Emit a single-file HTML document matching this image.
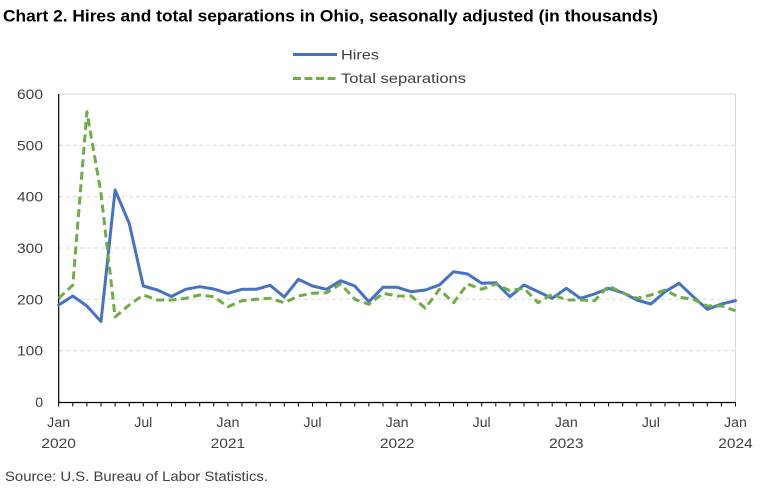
<!DOCTYPE html>
<html>
<head>
<meta charset="utf-8">
<style>
  html, body { margin: 0; padding: 0; background: #ffffff; }
  body { width: 780px; height: 488px; overflow: hidden; }
  svg { display: block; }
  text { font-family: "Liberation Sans", "DejaVu Sans", sans-serif; }
</style>
</head>
<body>
<svg width="780" height="488" viewBox="0 0 780 488" xmlns="http://www.w3.org/2000/svg">
  <rect x="0" y="0" width="780" height="488" fill="#ffffff"/>

  <text x="3" y="21.5" font-size="16.5" font-weight="bold" fill="#000" textLength="655" lengthAdjust="spacingAndGlyphs">Chart 2. Hires and total separations in Ohio, seasonally adjusted (in thousands)</text>

  <line x1="293" y1="54.5" x2="337" y2="54.5" stroke="#4472C4" stroke-width="3"/>
  <text x="341" y="59.5" font-size="14" fill="#404040" textLength="38" lengthAdjust="spacingAndGlyphs">Hires</text>
  <line x1="293" y1="78.5" x2="337" y2="78.5" stroke="#70AD47" stroke-width="3" stroke-dasharray="8,3.5"/>
  <text x="341" y="83" font-size="14" fill="#404040" textLength="125" lengthAdjust="spacingAndGlyphs">Total separations</text>

  <line x1="58.7" y1="94" x2="735.5" y2="94" stroke="#D9D9D9" stroke-width="1"/>
  <g stroke="#D9D9D9" stroke-width="1" stroke-dasharray="4,3">
    <line x1="59" y1="145.3" x2="735.5" y2="145.3"/>
    <line x1="59" y1="196.7" x2="735.5" y2="196.7"/>
    <line x1="59" y1="248" x2="735.5" y2="248"/>
    <line x1="59" y1="299.3" x2="735.5" y2="299.3"/>
    <line x1="59" y1="350.7" x2="735.5" y2="350.7"/>
  </g>
  <line x1="735.5" y1="94" x2="735.5" y2="402.5" stroke="#D9D9D9" stroke-width="1"/>

  <line x1="58.7" y1="94" x2="58.7" y2="402.5" stroke="#000" stroke-width="1.2"/>
  <line x1="58.2" y1="402.5" x2="736" y2="402.5" stroke="#000" stroke-width="1.2"/>
  <path stroke="#000" stroke-width="1" fill="none" d="M58.7 402.5v4M72.8 402.5v4M86.9 402.5v4M101 402.5v4M115.1 402.5v4M129.2 402.5v4M143.3 402.5v4M157.4 402.5v4M171.5 402.5v4M185.6 402.5v4M199.7 402.5v4M213.8 402.5v4M227.9 402.5v4M242 402.5v4M256.1 402.5v4M270.2 402.5v4M284.3 402.5v4M298.4 402.5v4M312.5 402.5v4M326.6 402.5v4M340.7 402.5v4M354.8 402.5v4M368.9 402.5v4M383 402.5v4M397.1 402.5v4M411.2 402.5v4M425.3 402.5v4M439.4 402.5v4M453.5 402.5v4M467.6 402.5v4M481.7 402.5v4M495.8 402.5v4M509.9 402.5v4M524 402.5v4M538.1 402.5v4M552.2 402.5v4M566.3 402.5v4M580.4 402.5v4M594.5 402.5v4M608.6 402.5v4M622.7 402.5v4M636.8 402.5v4M650.9 402.5v4M665 402.5v4M679.1 402.5v4M693.2 402.5v4M707.3 402.5v4M721.4 402.5v4M735.5 402.5v4"/>

  <g font-size="14" fill="#404040" text-anchor="end">
    <text x="43" y="99" textLength="26" lengthAdjust="spacingAndGlyphs">600</text>
    <text x="43" y="150.3" textLength="26" lengthAdjust="spacingAndGlyphs">500</text>
    <text x="43" y="201.7" textLength="26" lengthAdjust="spacingAndGlyphs">400</text>
    <text x="43" y="253" textLength="26" lengthAdjust="spacingAndGlyphs">300</text>
    <text x="43" y="304.3" textLength="26" lengthAdjust="spacingAndGlyphs">200</text>
    <text x="43" y="355.7" textLength="26" lengthAdjust="spacingAndGlyphs">100</text>
    <text x="43" y="407">0</text>
  </g>

  <g font-size="14" fill="#404040" text-anchor="middle">
    <text x="58.7" y="427" textLength="23" lengthAdjust="spacingAndGlyphs">Jan</text>
    <text x="143.3" y="427" textLength="18" lengthAdjust="spacingAndGlyphs">Jul</text>
    <text x="227.9" y="427" textLength="23" lengthAdjust="spacingAndGlyphs">Jan</text>
    <text x="312.5" y="427" textLength="18" lengthAdjust="spacingAndGlyphs">Jul</text>
    <text x="397.1" y="427" textLength="23" lengthAdjust="spacingAndGlyphs">Jan</text>
    <text x="481.7" y="427" textLength="18" lengthAdjust="spacingAndGlyphs">Jul</text>
    <text x="566.3" y="427" textLength="23" lengthAdjust="spacingAndGlyphs">Jan</text>
    <text x="650.9" y="427" textLength="18" lengthAdjust="spacingAndGlyphs">Jul</text>
    <text x="735.5" y="427" textLength="23" lengthAdjust="spacingAndGlyphs">Jan</text>
    <text x="58.7" y="448" textLength="34.5" lengthAdjust="spacingAndGlyphs">2020</text>
    <text x="227.9" y="448" textLength="34.5" lengthAdjust="spacingAndGlyphs">2021</text>
    <text x="397.1" y="448" textLength="34.5" lengthAdjust="spacingAndGlyphs">2022</text>
    <text x="566.3" y="448" textLength="34.5" lengthAdjust="spacingAndGlyphs">2023</text>
    <text x="735.5" y="448" textLength="34.5" lengthAdjust="spacingAndGlyphs">2024</text>
  </g>

  <polyline fill="none" stroke="#4472C4" stroke-width="3" stroke-linejoin="round" stroke-linecap="round"
    points="58.7,305 72.8,296 86.9,306 101,321.5 115.1,190 129.2,223.3 143.3,286 157.4,290 171.5,296.5 185.6,289.3 199.7,286.7 213.8,289 227.9,293.3 242,289.3 256.1,289.3 270.2,285.3 284.3,297 298.4,279.3 312.5,286 326.6,289.3 340.7,280.7 354.8,286 368.9,301.7 383,287.3 397.1,287.3 411.2,291.7 425.3,290 439.4,285 453.5,271.7 467.6,274 481.7,283.3 495.8,282.7 509.9,296.7 524,285 538.1,291.7 552.2,298.3 566.3,288.3 580.4,298.3 594.5,294 608.6,288.3 622.7,292.7 636.8,300 650.9,304 665,291.7 679.1,283.3 693.2,296.7 707.3,309.3 721.4,304 735.5,300.7"/>

  <polyline fill="none" stroke="#70AD47" stroke-width="3" stroke-linejoin="round" stroke-dasharray="8,4.5"
    points="58.7,298.3 72.8,285 86.9,111.7 101,193.3 115.1,317 129.2,305 143.3,295 157.4,300 171.5,300 185.6,298.3 199.7,295 213.8,296.7 227.9,306.7 242,300.7 256.1,299.3 270.2,298.3 284.3,302.7 298.4,296 312.5,293.3 326.6,292.7 340.7,284 354.8,299.3 368.9,304.3 383,293.3 397.1,296 411.2,296 425.3,308.3 439.4,289.3 453.5,302.7 467.6,284 481.7,289.3 495.8,284 509.9,290.7 524,288.3 538.1,302.7 552.2,294.3 566.3,300 580.4,300 594.5,300.7 608.6,286 622.7,292.7 636.8,298.3 650.9,295 665,290 679.1,297.3 693.2,299.3 707.3,306 721.4,306 735.5,310.7"/>

  <text x="5" y="481" font-size="14" fill="#404040" textLength="263" lengthAdjust="spacingAndGlyphs">Source: U.S. Bureau of Labor Statistics.</text>
</svg>
</body>
</html>
